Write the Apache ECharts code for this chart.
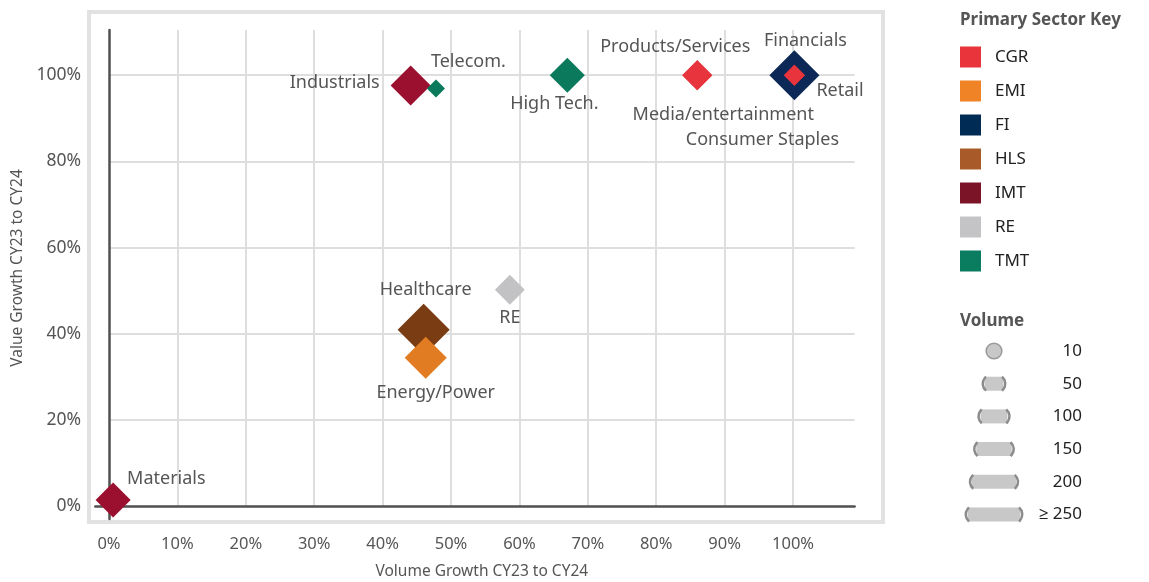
<!DOCTYPE html>
<html>
<head>
<meta charset="utf-8">
<script src="https://cdn.jsdelivr.net/npm/echarts@6/dist/echarts.min.js"></script>
<style>
html,body{margin:0;padding:0;background:#fff;}
#chart{width:1149px;height:582px;}
</style>
</head>
<body>
<div id="chart"></div>
<script>
// ---- data ----
const sectors = ['CGR', 'EMI', 'FI', 'HLS', 'IMT', 'RE', 'TMT'];
const pointNames = ['Materials', 'Industrials', 'Telecom.', 'High Tech.', 'Products/Services', 'Media/entertainment', 'Financials', 'Retail', 'Consumer Staples', 'Healthcare', 'RE', 'Energy/Power'];
const pointSector = ['IMT', 'IMT', 'TMT', 'TMT', 'CGR', 'CGR', 'FI', 'CGR', 'CGR', 'HLS', 'RE', 'EMI'];
const volumeGrowth = [0.6, 44.1, 47.8, 67, 86, 86, 100.2, 100.2, 100.2, 46, 58.6, 46.3];
const valueGrowth = [1.4, 97.6, 96.9, 100, 100, 100, 100, 100, 100, 40.9, 50.2, 34.4];
const volume = [124, 153, 24, 124, 94, 94, 212, 41, 41, 224, 94, 165];
const xTickValues = [0, 10, 20, 30, 40, 50, 60, 70, 80, 90, 100];
const yTickValues = [0, 20, 40, 60, 80, 100];
const volumeKeys = [10, 50, 100, 150, 200, 250];
const volumeKeyLabels = ['10', '50', '100', '150', '200', '\u2265 250'];

// ---- styles ----
const markerColor = {CGR: '#e8343c', EMI: '#e27c22', FI: '#0c2856', HLS: '#7a3c12', IMT: '#9b0f2f', RE: '#c2c2c4', TMT: '#0b7a5c'};
const legendColor = {CGR: '#e8343a', EMI: '#f08326', FI: '#002b55', HLS: '#a85b29', IMT: '#7c1428', RE: '#c4c4c6', TMT: '#0a7c60'};
const sectorZ = {CGR: 4, EMI: 4, FI: 2, HLS: 2, IMT: 2, RE: 2, TMT: 4};
const labelPlace = {
  'Materials': ['left', 14, -21],
  'Industrials': ['right', -31, -3],
  'Telecom.': ['left', -5, -27],
  'High Tech.': ['center', -13, 29],
  'Products/Services': ['center', -22, -28],
  'Media/entertainment': ['center', 26, 40],
  'Financials': ['center', 11, -34],
  'Retail': ['left', 22, 16],
  'Consumer Staples': ['center', -32, 65],
  'Healthcare': ['center', 2, -40],
  'RE': ['center', 0, 28],
  'Energy/Power': ['center', 10, 35]
};
const sizeOf = v => 14 + 0.17 * Math.min(v, 250);
const FONT = "'Noto Sans', 'Open Sans', sans-serif";
const TXT = '#555';

const series = sectors.map(s => {
  const data = [];
  pointNames.forEach((n, i) => {
    if (pointSector[i] !== s) return;
    const p = labelPlace[n];
    data.push({
      name: n,
      value: [volumeGrowth[i], valueGrowth[i], volume[i]],
      label: {align: p[0], offset: [p[1], p[2]]}
    });
  });
  return {
    name: s,
    type: 'scatter',
    xAxisIndex: 0,
    yAxisIndex: 0,
    symbol: 'diamond',
    symbolSize: val => sizeOf(val[2]),
    clip: false,
    z: sectorZ[s],
    itemStyle: {color: markerColor[s], opacity: 1},
    label: {
      show: true,
      position: 'inside',
      verticalAlign: 'middle',
      formatter: '{b}',
      color: TXT,
      fontSize: 18,
      fontFamily: FONT
    },
    emphasis: {disabled: true},
    data: data
  };
});

// volume key graphics
const graphics = [
  {type: 'rect', z: 0, shape: {x: 89, y: 12, width: 794, height: 510}, style: {fill: 'none', stroke: '#e2e2e2', lineWidth: 4}, silent: true},
  {type: 'text', style: {x: 960, y: 20, text: 'Primary Sector Key', font: "bold 17px " + FONT, fill: '#555', textVerticalAlign: 'middle'}},
  {type: 'text', style: {x: 960, y: 321, text: 'Volume', font: "bold 17px " + FONT, fill: '#555', textVerticalAlign: 'middle'}}
];
volumeKeys.forEach((v, i) => {
  const cy = 351 + i * 32.7;
  const cx = 994;
  const w = sizeOf(v);
  if (i === 0) {
    graphics.push({type: 'circle', shape: {cx: cx, cy: cy, r: w / 2}, style: {fill: '#c8c8c8', stroke: '#999', lineWidth: 1.5}});
  } else {
    graphics.push({type: 'rect', shape: {x: cx - w / 2 + 2, y: cy - 7, width: w - 4, height: 14}, style: {fill: '#c8c8c8'}});
    graphics.push({type: 'arc', shape: {cx: cx - w / 2 + 9, cy: cy, r: 9, startAngle: Math.PI * 0.72, endAngle: Math.PI * 1.28}, style: {fill: 'none', stroke: '#8c8c8c', lineWidth: 2.5}});
    graphics.push({type: 'arc', shape: {cx: cx + w / 2 - 9, cy: cy, r: 9, startAngle: -Math.PI * 0.28, endAngle: Math.PI * 0.28}, style: {fill: 'none', stroke: '#8c8c8c', lineWidth: 2.5}});
  }
  graphics.push({type: 'text', style: {x: 1082, y: cy, text: volumeKeyLabels[i], font: "17px " + FONT, fill: '#222', textAlign: 'right', textVerticalAlign: 'middle'}});
});

const chart = echarts.init(document.getElementById('chart'), null, {renderer: 'canvas'});
chart.setOption({
  backgroundColor: '#fff',
  animation: false,
  grid: [
    {left: 109, right: 294.4, top: 30, bottom: 76, containLabel: false, outerBoundsMode: 'none'},
    {left: 95.3, right: 294.4, top: 30, bottom: 63.1, containLabel: false, outerBoundsMode: 'none'}
  ],
  xAxis: [
    {
      type: 'value', gridIndex: 0, min: 0, max: 109, interval: 10,
      name: 'Volume Growth CY23 to CY24', nameLocation: 'middle', nameGap: 58,
      nameTextStyle: {color: TXT, fontSize: 15.5, fontFamily: FONT},
      axisLine: {show: false}, axisTick: {show: false},
      axisLabel: {
        color: TXT, fontSize: 16.5, fontFamily: FONT, margin: 30, showMaxLabel: false,
        formatter: v => xTickValues.indexOf(v) >= 0 ? v + '%' : ''
      },
      splitLine: {show: true, showMaxLine: false, showMinLine: false, lineStyle: {color: '#dedede', width: 2}}
    },
    {
      type: 'value', gridIndex: 1, min: -2, max: 109,
      axisLine: {show: true, onZero: true, lineStyle: {color: '#505050', width: 2.5}},
      axisTick: {show: false}, axisLabel: {show: false}, splitLine: {show: false}
    }
  ],
  yAxis: [
    {
      type: 'value', gridIndex: 0, min: 0, max: 110.5, interval: 20,
      name: 'Value Growth CY23 to CY24', nameLocation: 'middle', nameGap: 82, nameRotate: 90,
      nameTextStyle: {color: TXT, fontSize: 15.5, fontFamily: FONT},
      axisLine: {show: false}, axisTick: {show: false},
      axisLabel: {
        color: TXT, fontSize: 17.5, fontFamily: FONT, margin: 28, showMaxLabel: false,
        formatter: v => yTickValues.indexOf(v) >= 0 ? v + '%' : ''
      },
      splitLine: {show: true, showMaxLine: false, showMinLine: false, lineStyle: {color: '#dedede', width: 2}}
    },
    {
      type: 'value', gridIndex: 1, min: -3, max: 110.5,
      axisLine: {show: true, onZero: true, lineStyle: {color: '#505050', width: 2.5}},
      axisTick: {show: false}, axisLabel: {show: false}, splitLine: {show: false}
    }
  ],
  legend: {
    orient: 'vertical', left: 955, top: 41.5,
    icon: 'rect', itemWidth: 21, itemHeight: 21, itemGap: 13,
    selectedMode: false,
    textStyle: {color: '#222', fontSize: 17, fontFamily: FONT, padding: [0, 0, 0, 9]},
    data: sectors.map(s => ({name: s, itemStyle: {color: legendColor[s]}}))
  },
  graphic: graphics,
  series: series
});
</script>
</body>
</html>
